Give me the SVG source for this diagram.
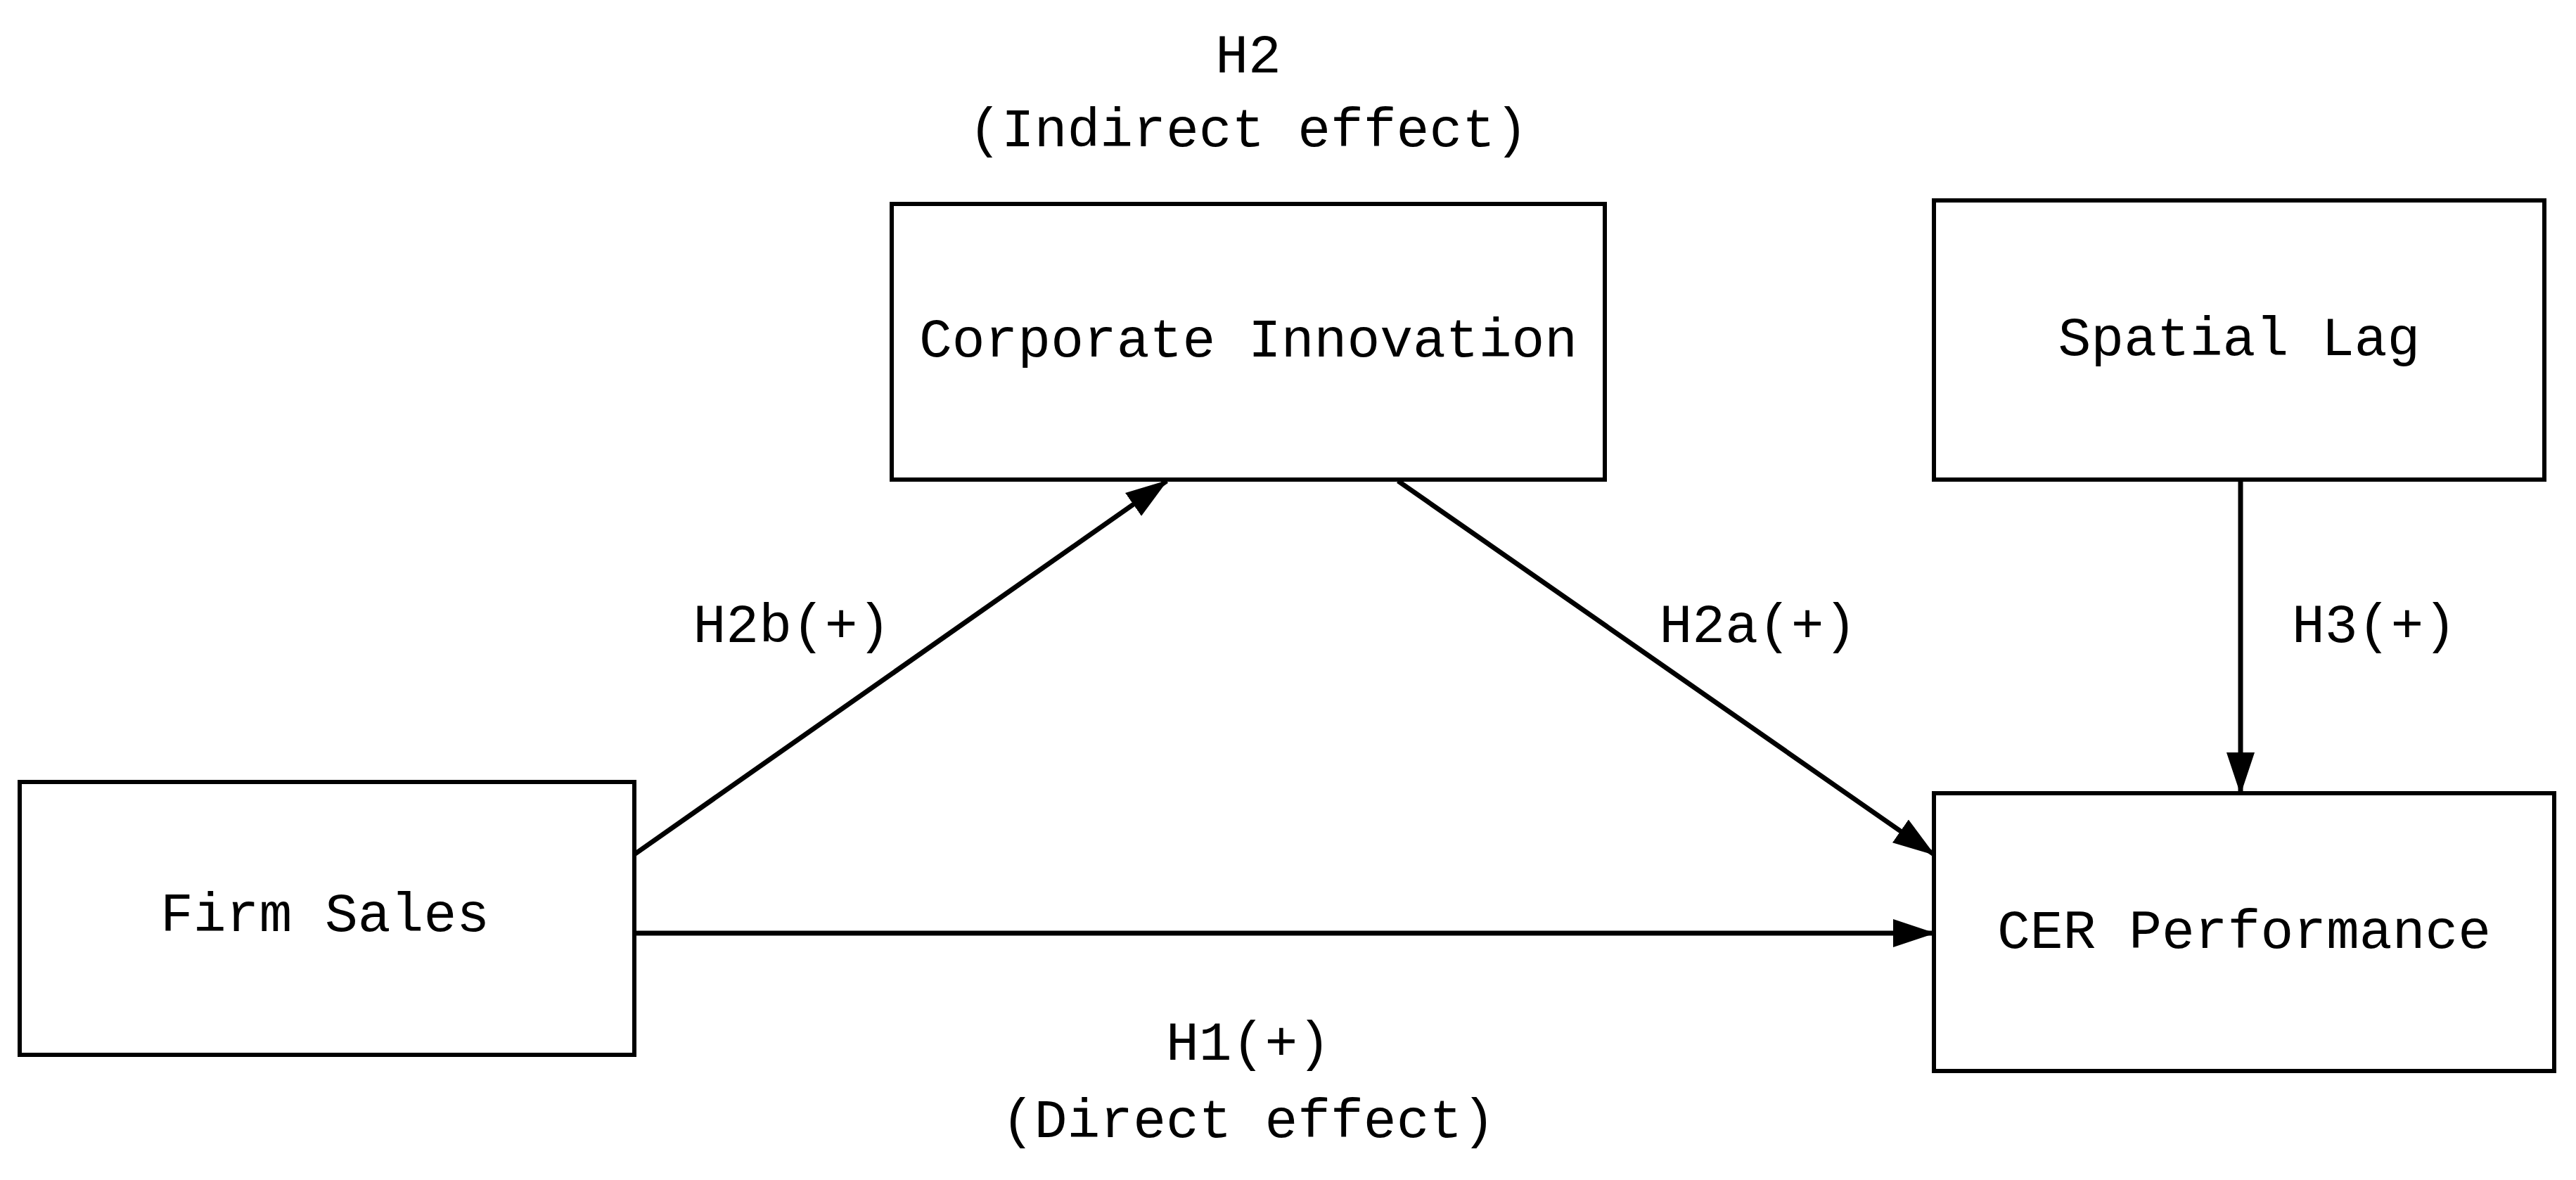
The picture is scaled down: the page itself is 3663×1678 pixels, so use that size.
<svg xmlns="http://www.w3.org/2000/svg" width="3663" height="1678" viewBox="0 0 3663 1678">
<style>
.box{fill:#fff;stroke:#000;stroke-width:6}
.t{font-family:"Liberation Mono","Noto Sans CJK SC",monospace;font-size:78px;fill:#000;text-anchor:middle;dominant-baseline:central}
.c{stroke:#000;stroke-width:7;fill:none;marker-end:url(#a)}
</style>
<defs><marker id="a" markerUnits="userSpaceOnUse" markerWidth="60" markerHeight="50" refX="58" refY="20" orient="auto" viewBox="0 0 60 40"><path d="M0,0 L60,20 L0,40 Z" fill="#000"/></marker></defs>
<rect width="3663" height="1678" fill="#fff"/>
<g id="firm"><rect class="box" x="28" y="1112" width="874" height="388"/><text class="t" x="462" y="1303">Firm Sales</text></g>
<g id="innov"><rect class="box" x="1268" y="290" width="1014" height="392"/><text class="t" x="1775" y="486">Corporate Innovation</text></g>
<g id="spatial"><rect class="box" x="2750" y="285" width="868" height="397"/><text class="t" x="3184" y="484">Spatial Lag</text></g>
<g id="cer"><rect class="box" x="2750" y="1128" width="882" height="395"/><text class="t" x="3191" y="1327">CER Performance</text></g>
<g id="connectors">
<line class="c" x1="902" y1="1215" x2="1659" y2="684"/>
<line class="c" x1="1988" y1="684" x2="2750" y2="1215"/>
<line class="c" x1="3186" y1="682" x2="3186" y2="1128"/>
<line class="c" x1="902" y1="1327" x2="2750" y2="1327"/>
</g>
<g id="labels">
<text class="t" x="1775" y="82">H2</text>
<text class="t" x="1775" y="187">(Indirect effect)</text>
<text class="t" x="1126" y="892">H2b(+)</text>
<text class="t" x="2500" y="892">H2a(+)</text>
<text class="t" x="3376" y="892">H3(+)</text>
<text class="t" x="1775" y="1486">H1(+)</text>
<text class="t" x="1775" y="1596">(Direct effect)</text>
</g>
</svg>
